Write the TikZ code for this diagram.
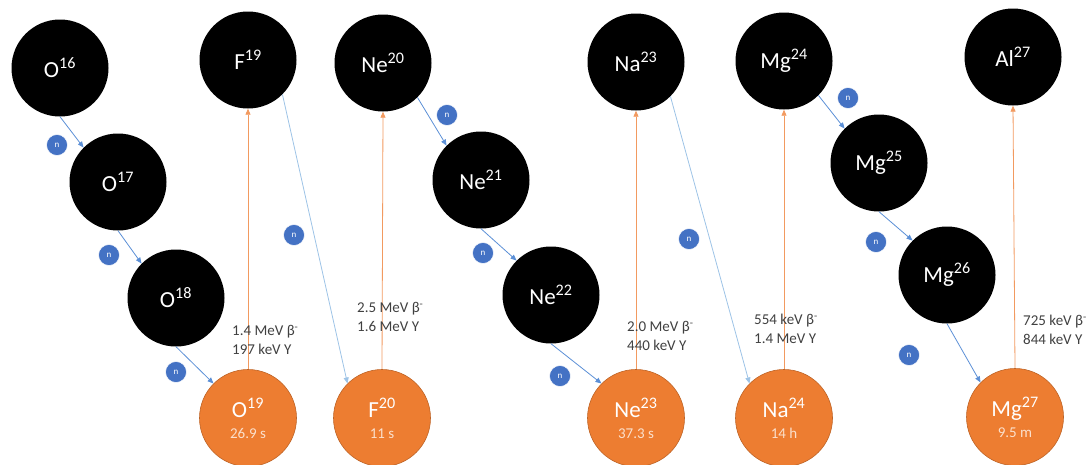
\documentclass[tikz,border=0pt]{standalone}
\usepackage{fontspec}
\setmainfont{Carlito}
\usetikzlibrary{arrows.meta}
\definecolor{nucorange}{HTML}{ED7D31}
\definecolor{nucblue}{HTML}{4472C4}
\definecolor{capblue}{HTML}{5B8FD6}
\definecolor{longblue}{HTML}{9DC3E6}
\definecolor{decayline}{HTML}{F29A60}
\definecolor{labelgray}{HTML}{404040}
\definecolor{halflife}{HTML}{FBE0CC}
\begin{document}
\begin{tikzpicture}[x=1pt,y=-1pt,
  stable/.style={circle,fill=black,minimum size=97pt,inner sep=0pt,text=white,font=\fontsize{23}{26}\selectfont},
  unstable/.style={circle,fill=nucorange,draw=nucorange!80!black,line width=0.6pt,minimum size=97pt,inner sep=0pt,text=white,align=center,font=\fontsize{23}{24}\selectfont},
  neutron/.style={circle,fill=nucblue,draw=white,line width=0.5pt,minimum size=21pt,inner sep=0pt,text=white,font=\fontsize{9}{10}\selectfont},
  capture/.style={-{Triangle[length=6pt,width=5pt]},capblue,line width=0.8pt},
  decay/.style={-{Triangle[length=6pt,width=5pt]},decayline,line width=0.8pt},
  energy/.style={anchor=west,align=left,inner sep=0pt,text=labelgray,font=\fontsize{15}{19}\selectfont}]
\useasboundingbox (0,0) rectangle (1091,464);
\newcommand{\halflife}[1]{\\[-3pt]{\fontsize{15}{16}\selectfont\color{halflife}#1}}
\node[stable] (o16) at (60,68) {O\textsuperscript{16}};
\node[stable] (o17) at (118,182) {O\textsuperscript{17}};
\node[stable] (o18) at (176,298) {O\textsuperscript{18}};
\node[unstable] (o19) at (248,418) {O\textsuperscript{19}\halflife{26.9 s}};
\node[stable] (f19) at (248,60) {F\textsuperscript{19}};
\node[unstable] (f20) at (382,418) {F\textsuperscript{20}\halflife{11 s}};
\node[stable] (ne20) at (383,63) {Ne\textsuperscript{20}};
\node[stable] (ne21) at (481,180) {Ne\textsuperscript{21}};
\node[stable] (ne22) at (551,295) {Ne\textsuperscript{22}};
\node[unstable] (ne23) at (636,418) {Ne\textsuperscript{23}\halflife{37.3 s}};
\node[stable] (na23) at (636,62) {Na\textsuperscript{23}};
\node[unstable] (na24) at (784,418) {Na\textsuperscript{24}\halflife{14 h}};
\node[stable] (mg24) at (784,61) {Mg\textsuperscript{24}};
\node[stable] (mg25) at (879,163) {Mg\textsuperscript{25}};
\node[stable] (mg26) at (947,275) {Mg\textsuperscript{26}};
\node[unstable] (mg27) at (1015,417) {Mg\textsuperscript{27}\halflife{9.5 m}};
\node[stable] (al27) at (1013,57) {Al\textsuperscript{27}};

\node[neutron] (no17) at (57,145) {n};
\node[neutron] (no18) at (109,255) {n};
\node[neutron] (no19) at (176,372) {n};
\node[neutron] (nf20) at (294,235) {n};
\node[neutron] (nne21) at (447,115) {n};
\node[neutron] (nne22) at (483,253) {n};
\node[neutron] (nne23) at (560,376) {n};
\node[neutron] (nna24) at (689,239) {n};
\node[neutron] (nmg25) at (848,98) {n};
\node[neutron] (nmg26) at (876,242) {n};
\node[neutron] (nmg27) at (909,355) {n};

\draw[capture] (o16.south) -- (o17.north west);
\draw[capture] (o17.south) -- (o18.north west);
\draw[capture] (o18.south) -- (o19.north west);
\draw[capture,longblue] (f19.south east) -- (f20.north west);
\draw[capture] (ne20.south east) -- (ne21.north west);
\draw[capture] (ne21.south) -- (ne22.north west);
\draw[capture] (ne22.south) -- (ne23.north west);
\draw[capture,longblue] (na23.south east) -- (na24.north west);
\draw[capture] (mg24.south east) -- (mg25.north west);
\draw[capture] (mg25.south) -- (mg26.north west);
\draw[capture] (mg26.south) -- (mg27.north west);

\draw[decay] (o19.north) -- (f19.south);
\draw[decay] (f20.north) -- (ne20.south);
\draw[decay] (ne23.north) -- (na23.south);
\draw[decay] (na24.north) -- (mg24.south);
\draw[decay] (mg27.north) -- (al27.south);

\node[energy] (eo19) at (232,340) {1.4 MeV β\textsuperscript{-}\\197 keV Y};
\node[energy] (ef20) at (357,317) {2.5 MeV β\textsuperscript{-}\\1.6 MeV Y};
\node[energy] (ene23) at (627,336) {2.0 MeV β\textsuperscript{-}\\440 keV Y};
\node[energy] (ena24) at (754,329) {554 keV β\textsuperscript{-}\\1.4 MeV Y};
\node[energy] (emg27) at (1023,330) {725 keV β\textsuperscript{-}\\844 keV Y};
\end{tikzpicture}
\end{document}
